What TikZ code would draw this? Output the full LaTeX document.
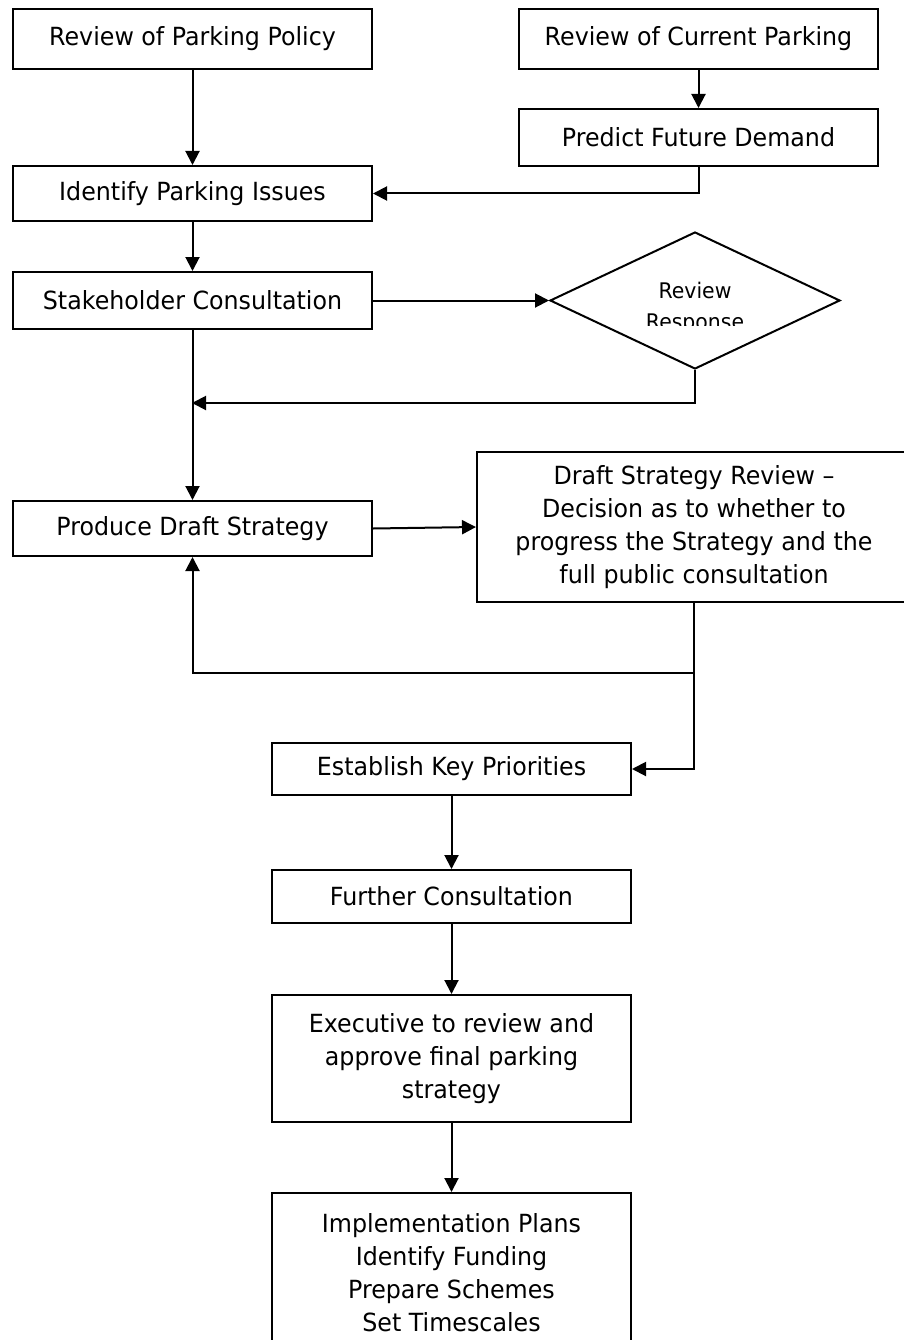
\documentclass[tikz,border=0pt]{standalone}
\usepackage{fontspec}
\setmainfont{DejaVu Sans}[FakeStretch=0.95]
\usetikzlibrary{shapes.geometric,arrows.meta}

\begin{document}
\begin{tikzpicture}[x=1pt,y=-1pt,
    box/.style={draw,line width=2pt,inner sep=0pt,align=center,
      minimum width=359pt,font=\fontsize{25}{33}\selectfont},
    choice/.style={draw,diamond,line width=2pt,inner sep=0pt,
      minimum width=290pt,minimum height=137pt},
    flow/.style={line width=2pt,-{Triangle[length=14pt,width=14pt]}}]
    \useasboundingbox (0,0) rectangle (903,1340);
    % boxes
    \node[box,minimum height=60pt] (policy) at (192.5,39) {Review of Parking Policy};
    \node[box,minimum height=60pt] (current) at (698.5,39) {Review of Current Parking};
    \node[box,minimum height=57pt] (predict) at (698.5,137.5) {Predict Future Demand};
    \node[box,minimum height=55pt] (issues) at (192.5,193.5) {Identify Parking Issues};
    \node[box,minimum height=57pt] (stake) at (192.5,300.5) {Stakeholder Consultation};
    \node[choice] (resp) at (695,300.5) {};
    \begin{scope}
      \clip (550,230) rectangle (840,325);
      \node[align=center,font=\fontsize{21.5}{31}\selectfont] (resptext) at (695,308) {Review\\Response};
    \end{scope}
    \node[box,minimum height=55pt] (draft) at (192.5,528.5) {Produce Draft Strategy};
    \node[box,minimum width=434pt,minimum height=150pt] (review) at (694,527)
      {Draft Strategy Review --\\Decision as to whether to\\progress the Strategy and the\\full public consultation};
    \node[box,minimum height=52pt] (estab) at (451.5,769) {Establish Key Priorities};
    \node[box,minimum height=53pt] (further) at (451.5,896.5) {Further Consultation};
    \node[box,minimum height=127pt] (exec) at (451.5,1058.5)
      {Executive to review and\\approve final parking\\strategy};
    \node[box,minimum height=160pt] (impl) at (451.5,1273)
      {Implementation Plans\\Identify Funding\\Prepare Schemes\\Set Timescales};
    % joins
    \coordinate (back) at (192,403);
    \coordinate (split) at (694,673);
    % connectors
    \draw[flow] (policy) -- (issues);
    \draw[flow] (current) -- (predict);
    \draw[flow] (predict.south) |- (issues.east);
    \draw[flow] (issues) -- (stake);
    \draw[flow] (stake.east) -- (resp.west);
    \draw[flow] (resp.south) |- (back);
    \draw[flow] (stake) -- (draft);
    \draw[flow] (draft.east) -- (review.west);
    \draw[line width=2pt] (review.south) -- (split);
    \draw[flow] (split) -| (draft.south);
    \draw[flow] (split) |- (estab.east);
    \draw[flow] (estab) -- (further);
    \draw[flow] (further) -- (exec);
    \draw[flow] (exec) -- (impl);
  \end{tikzpicture}
\end{document}
